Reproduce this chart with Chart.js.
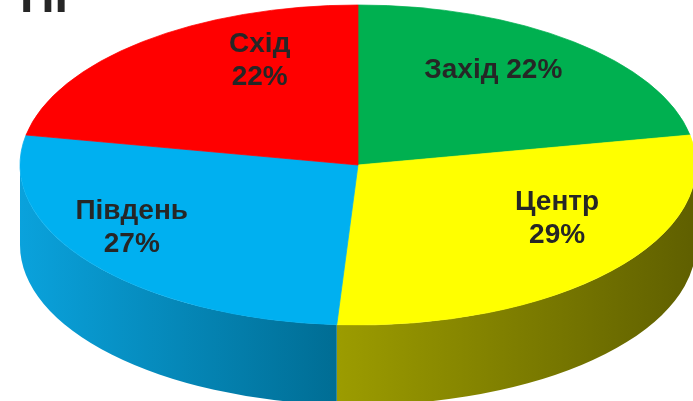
<!DOCTYPE html>
<html>
<head>
<meta charset="utf-8">
<script src="https://cdn.jsdelivr.net/npm/chart.js@4/dist/chart.umd.min.js"></script>
<style>
html,body{margin:0;padding:0;background:#fff;overflow:hidden}
#pie{display:block}
</style>
</head>
<body>
<canvas id="pie" width="693" height="401"></canvas>
<script>
// DATA
const categories = ['Захід', 'Центр', 'Південь', 'Схід'];
const shares = [22, 29, 27, 22];
const titleText = 'ПГ';

// 3D look: centre of the top ellipse, flattening, depth of the side
const CX = 358, CY = 165, RX = 338, K = 160 / 338, DEPTH = 80;

const topColors = ['#00b050', '#ffff00', '#00b0f0', '#ff0000'];
const sideLight = ['#008a3e', '#9c9c00', '#0aa2dc', '#c00000'];
const sideDark  = ['#006b30', '#5f5f00', '#006d94', '#900000'];

// label nudges (px) after placing at 60% of the radius
const labelOpts = [
    {dx: 6,   dy: -21, oneLine: true},
    {dx: 47,  dy: -10},
    {dx: -66, dy: 3},
    {dx: 31,  dy: -31}
];

function toScreen(arc, ang, f){
    return {
        x: CX + Math.cos(ang) * arc.outerRadius * f,
        y: CY + Math.sin(ang) * arc.outerRadius * f * K
    };
}

// PLUGIN: squash the pie into an ellipse and add the side wall
const pie3d = {
    id: 'pie3d',
    beforeDatasetsDraw(chart){
        const ctx = chart.ctx;
        const arcs = chart.getDatasetMeta(0).data;
        const a0 = arcs[0];
        ctx.save();
        ctx.translate(CX, CY);
        ctx.scale(1, K);
        ctx.translate(-a0.x, -a0.y);
        const d = DEPTH / K;
        arcs.forEach((arc, i)=>{
            const s = Math.max(arc.startAngle, 0);
            const e = Math.min(arc.endAngle, Math.PI);
            if(e <= s) return;
            const r = arc.outerRadius;
            const xs = arc.x + Math.cos(s) * r, xe = arc.x + Math.cos(e) * r;
            const g = ctx.createLinearGradient(Math.min(xs, xe), 0, Math.max(xs, xe), 0);
            // darker towards the right edge
            if(xs > xe){ g.addColorStop(0, sideLight[i]); g.addColorStop(1, sideDark[i]); }
            else { g.addColorStop(0, sideLight[i]); g.addColorStop(1, sideDark[i]); }
            ctx.beginPath();
            ctx.arc(arc.x, arc.y, r, s, e);
            ctx.arc(arc.x, arc.y + d, r, e, s, true);
            ctx.closePath();
            ctx.fillStyle = g;
            ctx.fill();
        });
    },
    afterDatasetsDraw(chart){
        const ctx = chart.ctx;
        ctx.restore();
        const arcs = chart.getDatasetMeta(0).data;
        const total = shares.reduce((a, b)=>a + b, 0);
        ctx.save();
        ctx.fillStyle = '#262626';
        ctx.font = 'bold 28px "Liberation Sans", Arial, sans-serif';
        ctx.textAlign = 'center';
        ctx.textBaseline = 'middle';
        arcs.forEach((arc, i)=>{
            const mid = (arc.startAngle + arc.endAngle) / 2;
            const p = toScreen(arc, mid, 0.6);
            const o = labelOpts[i];
            const x = p.x + o.dx, y = p.y + o.dy;
            const pct = Math.round(shares[i] / total * 100) + '%';
            if(o.oneLine){
                ctx.fillText(categories[i] + ' ' + pct, x, y);
            } else {
                ctx.fillText(categories[i], x, y - 16);
                ctx.fillText(pct, x, y + 17);
            }
        });
        // title, mostly cut off by the top edge
        ctx.textAlign = 'left';
        ctx.textBaseline = 'alphabetic';
        ctx.font = 'bold 48px "Liberation Sans", Arial, sans-serif';
        ctx.fillText(titleText, 20, 12);
        ctx.restore();
    }
};

const chart = new Chart(document.getElementById('pie'), {
    type: 'pie',
    data: {
        labels: categories,
        datasets: [{
            data: shares,
            backgroundColor: topColors,
            borderColor: topColors,
            borderWidth: 1,
            radius: RX,
            clip: false
        }]
    },
    options: {
        responsive: false,
        animation: false,
        events: [],
        plugins: {
            legend: {display: false},
            tooltip: {enabled: false}
        }
    },
    plugins: [pie3d]
});
</script>
</body>
</html>
